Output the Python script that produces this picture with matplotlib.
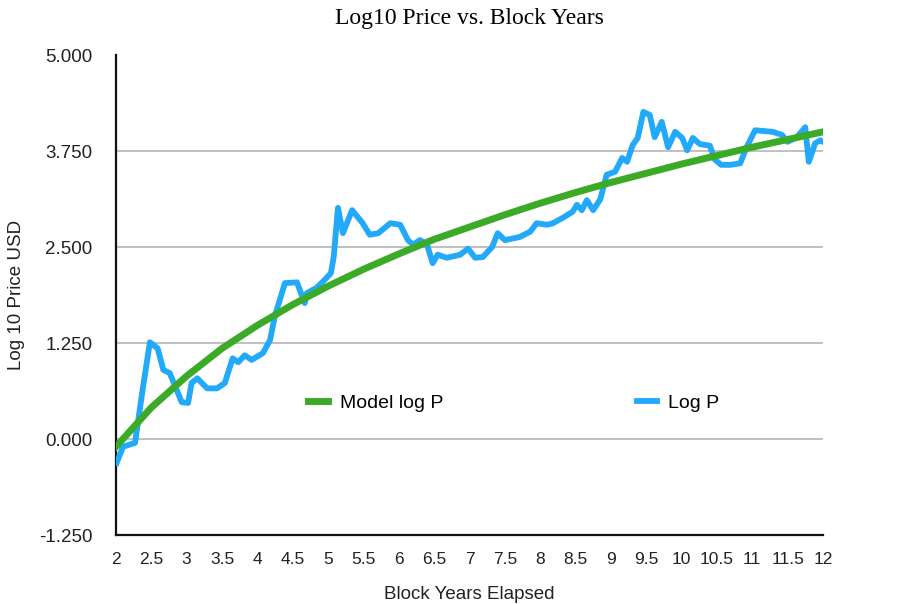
import matplotlib
matplotlib.use("Agg")
import matplotlib.pyplot as plt
from matplotlib.ticker import FormatStrFormatter

# Blue series: observed log10 price vs block years elapsed
block_years = [2.01, 2.10, 2.27, 2.37, 2.48, 2.59, 2.67, 2.76, 2.93, 3.02,
               3.07, 3.15, 3.29, 3.43, 3.54, 3.65, 3.73, 3.82, 3.92, 4.08,
               4.18, 4.25, 4.39, 4.56, 4.67, 4.70, 4.84, 4.98, 5.04, 5.08,
               5.14, 5.21, 5.34, 5.49, 5.59, 5.71, 5.88, 6.02, 6.13, 6.20,
               6.30, 6.40, 6.48, 6.55, 6.68, 6.87, 6.98, 7.08, 7.19, 7.32,
               7.40, 7.50, 7.71, 7.86, 7.95, 8.10, 8.18, 8.32, 8.46, 8.52,
               8.59, 8.66, 8.75, 8.85, 8.94, 9.06, 9.16, 9.23, 9.31, 9.38,
               9.46, 9.55, 9.62, 9.72, 9.81, 9.91, 10.01, 10.08, 10.16, 10.26,
               10.40, 10.47, 10.56, 10.69, 10.83, 10.92, 11.04, 11.29, 11.42, 11.50,
               11.63, 11.75, 11.80, 11.89, 11.96, 12.00]
log_p = [-0.31, -0.10, -0.05, 0.60, 1.26, 1.18, 0.90, 0.86, 0.48, 0.47,
         0.73, 0.79, 0.66, 0.66, 0.73, 1.05, 1.00, 1.09, 1.03, 1.12,
         1.29, 1.61, 2.03, 2.04, 1.77, 1.90, 1.97, 2.10, 2.16, 2.37,
         3.01, 2.68, 2.98, 2.81, 2.66, 2.68, 2.81, 2.79, 2.59, 2.53,
         2.59, 2.53, 2.29, 2.40, 2.36, 2.40, 2.48, 2.36, 2.37, 2.50,
         2.68, 2.59, 2.63, 2.70, 2.81, 2.79, 2.81, 2.88, 2.96, 3.05,
         2.98, 3.11, 2.98, 3.12, 3.44, 3.48, 3.66, 3.61, 3.83, 3.92,
         4.26, 4.22, 3.93, 4.13, 3.80, 4.00, 3.92, 3.76, 3.92, 3.84,
         3.82, 3.64, 3.57, 3.57, 3.59, 3.80, 4.02, 4.00, 3.96, 3.87,
         3.93, 4.06, 3.61, 3.85, 3.89, 3.87]

# Green series: model curve
model_years = [2, 2.5, 3, 3.5, 4, 4.5, 5, 5.5, 6, 6.5, 7,
               7.5, 8, 8.5, 9, 9.5, 10, 10.5, 11, 11.5, 12]
model_log_p = [-0.10, 0.41, 0.82, 1.18, 1.48, 1.75, 1.99, 2.21, 2.41, 2.60, 2.76,
               2.92, 3.07, 3.21, 3.34, 3.46, 3.58, 3.69, 3.80, 3.90, 4.00]

x_ticks = [2, 2.5, 3, 3.5, 4, 4.5, 5, 5.5, 6, 6.5, 7,
           7.5, 8, 8.5, 9, 9.5, 10, 10.5, 11, 11.5, 12]
x_tick_labels = ["2", "2.5", "3", "3.5", "4", "4.5", "5", "5.5", "6", "6.5", "7",
                 "7.5", "8", "8.5", "9", "9.5", "10", "10.5", "11", "11.5", "12"]
y_ticks = [-1.25, 0.0, 1.25, 2.5, 3.75, 5.0]

plt.rcParams["font.family"] = ["Liberation Sans", "DejaVu Sans"]

fig = plt.figure(figsize=(9.16, 6.04), dpi=100)
ax = fig.add_axes([0.1266, 0.1142, 0.7718, 0.7947])

ax.plot(block_years, log_p, color="#22a9f9", lw=4.2, solid_joinstyle="round",
        label="Log P", zorder=3)
ax.plot(model_years, model_log_p, color="#3bab27", lw=5.0,
        label="Model log P", zorder=4)

ax.set_xlim(2, 12)
ax.set_ylim(-1.25, 5.0)
ax.set_xticks(x_ticks)
ax.set_xticklabels(x_tick_labels)
ax.set_yticks(y_ticks)
ax.yaxis.set_major_formatter(FormatStrFormatter("%.3f"))
ax.tick_params(axis="both", length=0, colors="#222222")
ax.tick_params(axis="x", pad=12, labelsize=12.5)
ax.tick_params(axis="y", pad=17, labelsize=13.5)

# horizontal grid only at the inner ticks
for yv in y_ticks[1:-1]:
    ax.axhline(yv, color="#b5b5b5", lw=1.2, zorder=1)

for side in ["top", "right"]:
    ax.spines[side].set_visible(False)
for side in ["left", "bottom"]:
    ax.spines[side].set_color("#111111")
    ax.spines[side].set_linewidth(1.6)

ax.set_xlabel("Block Years Elapsed", fontsize=13.5, labelpad=14, color="#222222")
ax.set_ylabel("Log 10 Price USD", fontsize=13.5, labelpad=10, color="#222222")
ax.set_title("Log10 Price vs. Block Years", fontsize=17,
             family=["Liberation Serif", "DejaVu Serif"], pad=22)

handles, labels = ax.get_legend_handles_labels()
ax.legend(handles[::-1], labels[::-1], ncol=2, loc="center",
          bbox_to_anchor=(0.563, 0.275), frameon=False, fontsize=14,
          handlelength=1.0, handletextpad=0.6, columnspacing=10)

fig.savefig("out.png", dpi=100)
